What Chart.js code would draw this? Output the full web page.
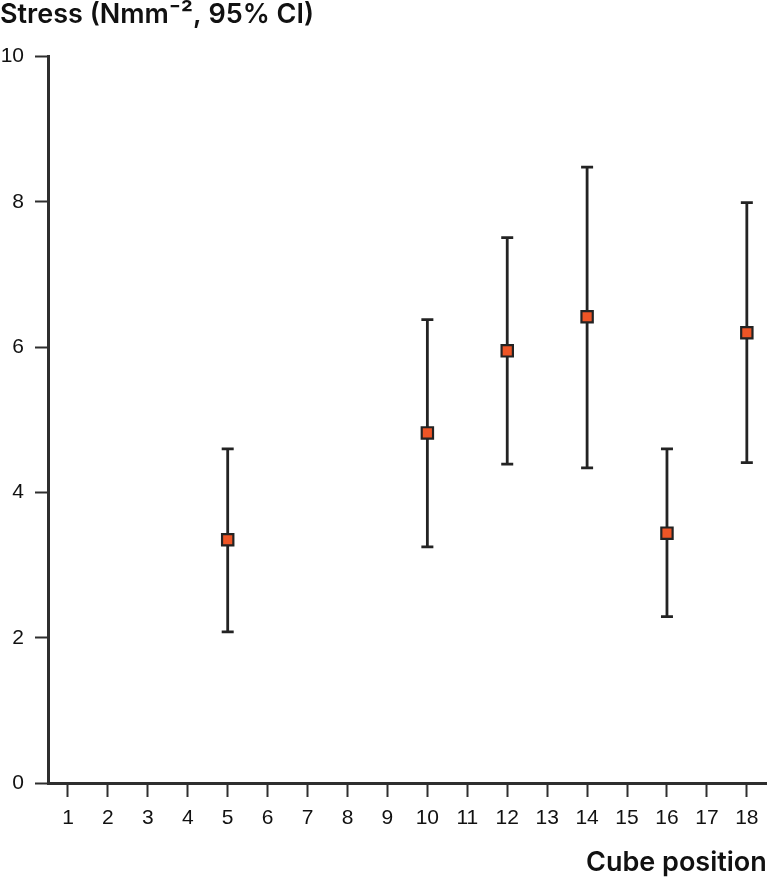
<!DOCTYPE html>
<html>
<head>
<meta charset="utf-8">
<script src="https://cdn.jsdelivr.net/npm/chart.js@4/dist/chart.umd.min.js"></script>
<style>
  html, body { margin: 0; padding: 0; background: #ffffff; }
  #wrap { width: 777px; height: 877px; position: relative; }
</style>
</head>
<body>
<div id="wrap"><canvas id="stressChart"></canvas></div>
<script>
// cube positions on the x axis
const positions = ['1', '2', '3', '4', '5', '6', '7', '8', '9', '10', '11', '12', '13', '14', '15', '16', '17', '18'];
// measured cubes and their mean stress with 95% CI
const cubes = ['5', '10', '12', '14', '16', '18'];
const means = [3.35, 4.82, 5.95, 6.42, 3.44, 6.20];
const lower = [2.08, 3.25, 4.39, 4.34, 2.29, 4.41];
const upper = [4.60, 6.38, 7.51, 8.48, 4.60, 7.99];
const yTicks = [0, 2, 4, 6, 8, 10];

const colors = {
    ink: '#232323',
    axis: '#2e2e2e',
    marker: '#ee5526'
};

const errorBarPlugin = {
    id: 'errorBars',
    beforeDatasetsDraw: function (chart) {
        const ctx = chart.ctx;
        const meta = chart.getDatasetMeta(0);
        const yScale = chart.scales.y;
        const cap = 6;

        ctx.save();
        ctx.strokeStyle = colors.ink;
        ctx.lineWidth = 2.8;
        meta.data.forEach(function (point, i) {
            const x = point.x;
            const yLo = yScale.getPixelForValue(lower[i]);
            const yHi = yScale.getPixelForValue(upper[i]);
            ctx.beginPath();
            ctx.moveTo(x, yLo);
            ctx.lineTo(x, yHi);
            ctx.moveTo(x - cap, yHi);
            ctx.lineTo(x + cap, yHi);
            ctx.moveTo(x - cap, yLo);
            ctx.lineTo(x + cap, yLo);
            ctx.stroke();
        });
        ctx.restore();
    }
};

new Chart(document.getElementById('stressChart'), {
    type: 'line',
    data: {
        labels: positions,
        datasets: [{
            label: 'Stress',
            data: cubes.map(function (c, i) { return { x: c, y: means[i] }; }),
            showLine: false,
            pointStyle: 'rect',
            pointRadius: 8,
            pointHoverRadius: 8,
            pointBackgroundColor: colors.marker,
            pointBorderColor: colors.ink,
            pointBorderWidth: 2.2
        }]
    },
    options: {
        responsive: true,
        maintainAspectRatio: false,
        animation: false,
        layout: { padding: { left: 0, right: 5, top: 0, bottom: 0 } },
        plugins: {
            legend: { display: false },
            tooltip: { enabled: false },
            title: {
                display: true,
                text: 'Stress (Nmm\u207B\u00B2, 95% CI)',
                align: 'start',
                color: '#111111',
                font: { family: 'Inter, "Liberation Sans", Arial, sans-serif', size: 27, weight: '600', lineHeight: 1.1 },
                padding: { top: 0, bottom: 27 }
            }
        },
        scales: {
            x: {
                type: 'category',
                offset: true,
                border: { display: true, color: colors.axis, width: 3 },
                grid: {
                    display: true,
                    offset: false,
                    drawOnChartArea: false,
                    drawTicks: true,
                    tickLength: 14,
                    tickColor: colors.axis,
                    tickWidth: 2
                },
                ticks: {
                    color: '#111111',
                    padding: 9,
                    maxRotation: 0,
                    autoSkip: false,
                    font: { family: '"Liberation Sans", Arial, sans-serif', size: 21 }
                },
                title: {
                    display: true,
                    text: 'Cube position',
                    align: 'end',
                    color: '#111111',
                    font: { family: 'Inter, "Liberation Sans", Arial, sans-serif', size: 27, weight: '600', lineHeight: 1.0 },
                    padding: { top: 0, bottom: 1 }
                },
                afterFit: function (scale) { scale.height = 94; }
            },
            y: {
                min: 0,
                max: 10,
                afterBuildTicks: function (scale) {
                    scale.ticks = yTicks.map(function (v) { return { value: v }; });
                },
                border: { display: true, color: colors.axis, width: 3 },
                grid: {
                    display: true,
                    drawOnChartArea: false,
                    drawTicks: true,
                    tickLength: 13,
                    tickColor: colors.axis,
                    tickWidth: 2
                },
                ticks: {
                    color: '#111111',
                    padding: 11,
                    font: { family: '"Liberation Sans", Arial, sans-serif', size: 21 }
                },
                afterFit: function (scale) { scale.width = 48; }
            }
        }
    },
    plugins: [errorBarPlugin]
});
</script>
</body>
</html>
